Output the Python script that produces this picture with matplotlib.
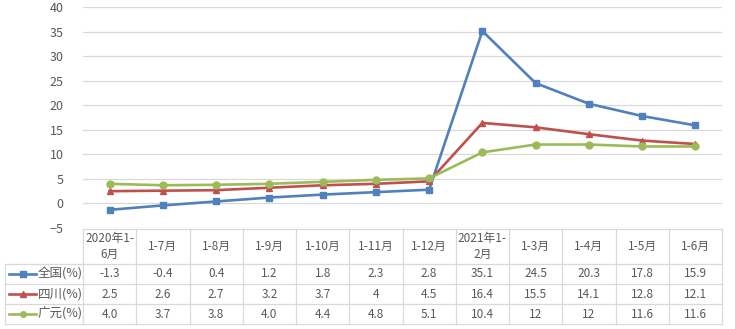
import matplotlib.pyplot as plt
from matplotlib.lines import Line2D

plt.rcParams['font.family'] = ['Noto Sans CJK SC', 'DejaVu Sans']

# data
periods = ["2020年1-\n6月", "1-7月", "1-8月", "1-9月", "1-10月", "1-11月", "1-12月",
           "2021年1-\n2月", "1-3月", "1-4月", "1-5月", "1-6月"]
national = [-1.3, -0.4, 0.4, 1.2, 1.8, 2.3, 2.8, 35.1, 24.5, 20.3, 17.8, 15.9]
sichuan = [2.5, 2.6, 2.7, 3.2, 3.7, 4.0, 4.5, 16.4, 15.5, 14.1, 12.8, 12.1]
guangyuan = [4.0, 3.7, 3.8, 4.0, 4.4, 4.8, 5.1, 10.4, 12.0, 12.0, 11.6, 11.6]
national_txt = ["-1.3", "-0.4", "0.4", "1.2", "1.8", "2.3", "2.8", "35.1", "24.5", "20.3", "17.8", "15.9"]
sichuan_txt = ["2.5", "2.6", "2.7", "3.2", "3.7", "4", "4.5", "16.4", "15.5", "14.1", "12.8", "12.1"]
guangyuan_txt = ["4.0", "3.7", "3.8", "4.0", "4.4", "4.8", "5.1", "10.4", "12", "12", "11.6", "11.6"]

series = [
    ("全国(%)", national, national_txt, "#4F81BD", "s"),
    ("四川(%)", sichuan, sichuan_txt, "#C0504D", "^"),
    ("广元(%)", guangyuan, guangyuan_txt, "#9BBB59", "o"),
]

W, H = 735, 329
fig = plt.figure(figsize=(W / 100, H / 100), dpi=100)

grid_c = "#D9D9D9"
txt_c = "#595959"

# line chart
ax = fig.add_axes([83 / W, (H - 228) / H, 639 / W, 221 / H])
x = list(range(len(periods)))
for name, vals, _, color, mk in series:
    ax.plot(x, vals, color=color, lw=1.9, marker=mk, markersize=5, zorder=3)
ax.set_xlim(-0.5, 11.5)
ax.set_ylim(-5, 40)
ax.set_yticks(range(-5, 41, 5))
ax.set_xticks([])
ax.grid(axis="y", color=grid_c, lw=0.9)
ax.set_axisbelow(True)
for s in ax.spines.values():
    s.set_visible(False)
ax.tick_params(axis="y", length=0, labelsize=9, labelcolor=txt_c, pad=14)

# data table
tab = fig.add_axes([83 / W, (H - 324) / H, 639 / W, 95 / H])
tab.set_xlim(-0.5, 11.5)
tab.set_ylim(324, 229)
tab.axis("off")
px = 639 / 12
col_left = (5 - 83) / px - 0.5
row_edges = [229, 263.5, 284, 304, 324]

tab.plot([-0.5, 11.5], [row_edges[0]] * 2, color=grid_c, lw=0.9, clip_on=False)
for yy in row_edges[1:]:
    tab.plot([col_left, 11.5], [yy, yy], color=grid_c, lw=0.9, clip_on=False)
for i in range(13):
    tab.plot([i - 0.5, i - 0.5], [row_edges[0], row_edges[-1]], color=grid_c, lw=0.9, clip_on=False)
tab.plot([col_left, col_left], [row_edges[1], row_edges[-1]], color=grid_c, lw=0.9, clip_on=False)

for i, p in enumerate(periods):
    tab.text(i, (row_edges[0] + row_edges[1]) / 2, p, ha="center", va="center",
             fontsize=8.5, color=txt_c, linespacing=1.3)

for r, (name, vals, labels, color, mk) in enumerate(series):
    yc = (row_edges[r + 1] + row_edges[r + 2]) / 2
    for i, t in enumerate(labels):
        tab.text(i, yc, t, ha="center", va="center", fontsize=8.5, color=txt_c)
    x0 = (9 - 83) / px - 0.5
    x1 = (36 - 83) / px - 0.5
    tab.add_line(Line2D([x0, x1], [yc, yc], color=color, lw=1.9, clip_on=False))
    tab.add_line(Line2D([(x0 + x1) / 2], [yc], color=color, marker=mk, markersize=4, clip_on=False))
    tab.text((38 - 83) / px - 0.5, yc, name, ha="left", va="center", fontsize=9, color=txt_c)

fig.savefig("out.png", dpi=100)
